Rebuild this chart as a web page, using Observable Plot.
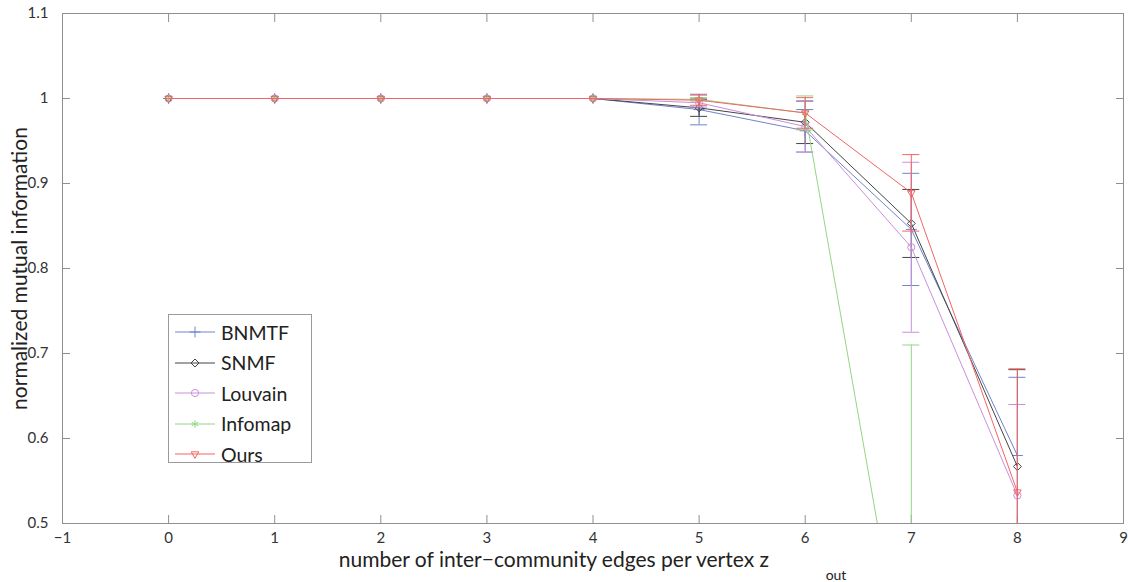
<!DOCTYPE html>
<html><head><meta charset="utf-8">
<script src="https://cdn.jsdelivr.net/npm/d3@7"></script>
<script src="https://cdn.jsdelivr.net/npm/@observablehq/plot@0.6"></script>
<style>
body{margin:0;background:#fff;}
#wrap{position:relative;width:1128px;height:582px;overflow:hidden;}
#legend{position:absolute;left:168px;top:314px;width:142px;height:147px;border:1px solid #9a9a9a;background:#fff;font-family:Lato,"Open Sans",sans-serif;font-size:19.5px;color:#222;}
#legend .row{position:absolute;left:0;height:30px;display:flex;align-items:center;}
#legend .row span{margin-left:4px;}
</style></head><body><div id="wrap"></div>
<script>
const xs = [0, 1, 2, 3, 4, 5, 6, 7, 8];
const seriesNames = ["BNMTF", "SNMF", "Louvain", "Infomap", "Ours"];
const bnmtf      = [1, 1, 1, 1, 1, 0.987, 0.962, 0.846, 0.580];
const bnmtfErr   = [0, 0, 0, 0, 0, 0.018, 0.025, 0.066, 0.092];
const snmf       = [1, 1, 1, 1, 1, 0.989, 0.972, 0.853, 0.567];
const snmfErr    = [0, 0, 0, 0, 0, 0.010, 0.025, 0.040, 0.114];
const louvain    = [1, 1, 1, 1, 1, 0.995, 0.967, 0.825, 0.533];
const louvainErr = [0, 0, 0, 0, 0, 0.005, 0.030, 0.100, 0.107];
const infomap    = [1, 1, 1, 1, 1, 0.999, 0.983, 0.273, 0.050];
const infomapErr = [0, 0, 0, 0, 0, 0.002, 0.020, 0.437, 0.100];
const ours       = [1, 1, 1, 1, 1, 0.998, 0.983, 0.889, 0.537];
const oursErr    = [0, 0, 0, 0, 0, 0.006, 0.018, 0.045, 0.145];
const colors  = ["#7083cc", "#444444", "#c98fda", "#93d684", "#f36464"];
const symbols = ["plus", "diamond2", "circle", "asterisk", "triangle2"];
const rotations = [0, 0, 0, 0, 180];
const xTicks = [-1, 0, 1, 2, 3, 4, 5, 6, 7, 8, 9];
const yTicks = [0.5, 0.6, 0.7, 0.8, 0.9, 1, 1.1];
const xLabel = "number of inter\u2212community edges per vertex z";
const xSub = "out";
const yLabel = "normalized mutual information";

const values = [bnmtf, snmf, louvain, infomap, ours];
const errs = [bnmtfErr, snmfErr, louvainErr, infomapErr, oursErr];
const capHalf = 0.08;

const marks = [];
seriesNames.forEach((name, si) => {
  const rows = xs.map((x, i) => ({x, y: values[si][i], lo: values[si][i] - errs[si][i], hi: values[si][i] + errs[si][i], e: errs[si][i]}));
  const eb = rows.filter(d => d.e > 0);
  const c = colors[si];
  marks.push(Plot.ruleX(eb, {x: "x", y1: "lo", y2: "hi", stroke: c, strokeWidth: 1, clip: true}));
  marks.push(Plot.ruleY(eb, {y: "hi", x1: d => d.x - capHalf, x2: d => d.x + capHalf, stroke: c, strokeWidth: 1, clip: true}));
  marks.push(Plot.ruleY(eb, {y: "lo", x1: d => d.x - capHalf, x2: d => d.x + capHalf, stroke: c, strokeWidth: 1, clip: true}));
  marks.push(Plot.line(rows, {x: "x", y: "y", stroke: c, strokeWidth: 1, clip: true}));
  marks.push(Plot.dot(rows, {x: "x", y: "y", symbol: symbols[si], stroke: c, fill: "none", r: 3.6, rotate: rotations[si], strokeWidth: 1, clip: true}));
});

const fmt = d => d === -1 ? "\u22121" : String(d);
const plot = Plot.plot({
  width: 1128,
  height: 582,
  marginLeft: 62,
  marginRight: 5,
  marginTop: 13,
  marginBottom: 59,
  style: {fontFamily: "Lato, 'Open Sans', sans-serif", fontSize: "15px", color: "#333", background: "#fff"},
  x: {domain: [-1, 9]},
  y: {domain: [0.5, 1.1]},
  marks: [
    Plot.frame({stroke: "#8f8f8f"}),
    Plot.axisX(xTicks, {anchor: "bottom", tickSize: -8, tickPadding: 17, tickFormat: fmt, label: null, stroke: "#8f8f8f", fill: "#333"}),
    Plot.axisX(xTicks, {anchor: "top", tickSize: -8, tickFormat: () => "", label: null, stroke: "#8f8f8f"}),
    Plot.axisY(yTicks, {anchor: "left", tickSize: -8, tickPadding: 22, tickFormat: d => String(d), label: null, stroke: "#8f8f8f", fill: "#333"}),
    Plot.axisY(yTicks, {anchor: "right", tickSize: -8, tickFormat: () => "", label: null, stroke: "#8f8f8f"}),
    ...marks,
    Plot.text([xLabel], {text: d => d, frameAnchor: "bottom", textAnchor: "end", dx: 176, dy: 37, fontSize: 21, fill: "#222", lineAnchor: "middle"}),
    Plot.text([xSub], {text: d => d, frameAnchor: "bottom", textAnchor: "middle", dx: 243, dy: 52, fontSize: 14, fill: "#222", lineAnchor: "middle"}),
    Plot.text([yLabel], {text: d => d, frameAnchor: "left", textAnchor: "middle", rotate: -90, dx: -42, fontSize: 21, fill: "#222", lineAnchor: "middle"})
  ]
});
const wrap = document.getElementById("wrap");
wrap.appendChild(plot);

// legend overlay
const legend = document.createElement("div");
legend.id = "legend";
const symMap = {plus: d3.symbolPlus, diamond2: d3.symbolDiamond2, circle: d3.symbolCircle, asterisk: d3.symbolAsterisk, triangle2: d3.symbolTriangle2};
seriesNames.forEach((name, si) => {
  const row = document.createElement("div");
  row.className = "row";
  row.style.top = (2 + si * 30.5) + "px";
  const s = d3.create("svg").attr("width", 48).attr("height", 30);
  s.append("line").attr("x1", 6).attr("x2", 46).attr("y1", 15).attr("y2", 15).attr("stroke", colors[si]).attr("stroke-width", 1);
  s.append("path").attr("d", d3.symbol(symMap[symbols[si]], Math.PI * 3.6 * 3.6)())
    .attr("transform", `translate(26,15) rotate(${rotations[si]})`)
    .attr("fill", "none").attr("stroke", colors[si]).attr("stroke-width", 1);
  row.appendChild(s.node());
  const t = document.createElement("span");
  t.textContent = name;
  row.appendChild(t);
  legend.appendChild(row);
});
wrap.appendChild(legend);
</script>
</body></html>
